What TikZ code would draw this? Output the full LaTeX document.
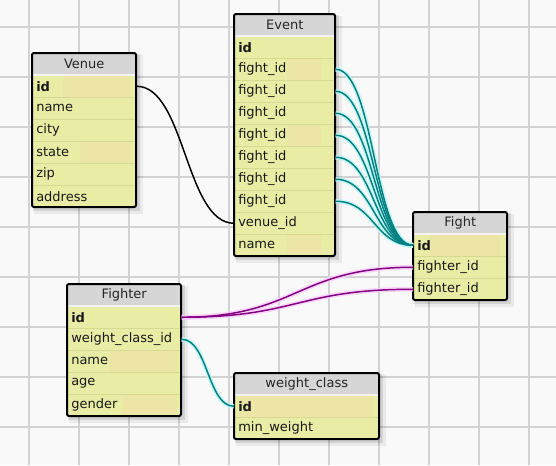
\documentclass[tikz,border=0pt]{standalone}
\usepackage{fontspec}
\setmainfont{DejaVu Sans}
\definecolor{bgc}{RGB}{249,249,249}
\definecolor{gridc}{RGB}{210,210,210}
\definecolor{hdrc}{RGB}{214,214,214}
\definecolor{rowc}{RGB}{232,236,164}
\definecolor{tanc}{RGB}{237,229,166}
\definecolor{sepc}{RGB}{212,218,148}
\definecolor{tealc}{RGB}{0,128,128}
\definecolor{purc}{RGB}{130,0,130}
\definecolor{cyanhalo}{RGB}{190,245,245}
\definecolor{pinkhalo}{RGB}{250,205,250}
\newcommand\erdfont{\fontsize{9.75}{11}\selectfont}
\newcommand\erdshadow[4]{%
  \fill[black,opacity=.06] (#1+2,#2+2) rectangle (#3+7,#4+7);
  \fill[black,opacity=.10] (#1+1,#2+1) rectangle (#3+4,#4+4);
  \fill[rowc] (#1,#2) rectangle (#3,#4);}
\begin{document}
\begin{tikzpicture}[x=0.75pt,y=-0.75pt,
  gridline/.style={draw=gridc,line width=0.85pt},
  hdrnode/.style={anchor=north west,fill=hdrc,minimum height=16.5pt,inner xsep=0pt,inner ysep=0pt,align=center,font=\erdfont,text=black!85},
  rownode/.style={anchor=north west,minimum height=16.5pt,inner xsep=3pt,inner ysep=0pt,align=left,font=\erdfont,text=black!90},
  sepline/.style={draw=sepc,line width=0.7pt},
  hdrsep/.style={draw=white!70!hdrc,line width=0.9pt},
  border/.style={draw=black,line width=1.5pt,rounded corners=1.5pt},
  blackcon/.style={draw=black,line width=1.1pt},
  tealcon/.style={draw=tealc,line width=1.1pt},
  purcon/.style={draw=purc,line width=1.1pt},
  cyanglow/.style={draw=cyanhalo,line width=3.5pt,opacity=.8},
  pinkglow/.style={draw=pinkhalo,line width=3.5pt,opacity=.8}]
\useasboundingbox (0,0) rectangle (556,465);
\fill[bgc] (0,0) rectangle (556,465);
\foreach \k in {0,...,10} \draw[gridline] (29+50*\k,0) -- (29+50*\k,465);
\foreach \k in {0,...,8} \draw[gridline] (0,27+50*\k) -- (556,27+50*\k);

% ---------------- Venue
\erdshadow{32}{53}{136}{207}
\fill[tanc] (63,75) rectangle (130,97);
\fill[tanc] (80,141) rectangle (130,163);
\node[hdrnode,text width=78pt] (venue) at (32,53) {Venue};
\node[rownode,text width=72pt] (venue-id) at (32,75) {\textbf{id}};
\node[rownode,text width=72pt] (venue-name) at (32,97) {name};
\node[rownode,text width=72pt] (venue-city) at (32,119) {city};
\node[rownode,text width=72pt] (venue-state) at (32,141) {state};
\node[rownode,text width=72pt] (venue-zip) at (32,163) {zip};
\node[rownode,text width=72pt] (venue-address) at (32,185) {address};
\draw[hdrsep] (32,75) -- (136,75);
\foreach \y in {97,119,141,163,185} \draw[sepline] (32,\y) -- (136,\y);
\draw[border] (32,53) rectangle (136,207);

% ---------------- Event
\erdshadow{234}{14}{335}{256}
\fill[tanc] (287,58) rectangle (321,80);
\fill[tanc] (287,124) rectangle (321,146);
\fill[tanc] (287,234) rectangle (321,256);
\node[hdrnode,text width=75.75pt] (event) at (234,14) {Event};
\node[rownode,text width=69.75pt] (ev-id) at (234,36) {\textbf{id}};
\foreach \i/\y in {1/58,2/80,3/102,4/124,5/146,6/168,7/190}
  \node[rownode,text width=69.75pt] (ev-f\i) at (234,\y) {fight\_id};
\node[rownode,text width=69.75pt] (ev-venue) at (234,212) {venue\_id};
\node[rownode,text width=69.75pt] (ev-name) at (234,234) {name};
\draw[hdrsep] (234,36) -- (335,36);
\foreach \y in {58,80,102,124,146,168,190,212,234} \draw[sepline] (234,\y) -- (335,\y);
\draw[border] (234,14) rectangle (335,256);

% ---------------- Fight
\erdshadow{413}{212}{507}{300}
\fill[tanc] (430,234) rectangle (500,256);
\node[hdrnode,text width=70.5pt] (fight) at (413,212) {Fight};
\node[rownode,text width=64.5pt] (fight-id) at (413,234) {\textbf{id}};
\node[rownode,text width=64.5pt] (fight-fk1) at (413,256) {fighter\_id};
\node[rownode,text width=64.5pt] (fight-fk2) at (413,278) {fighter\_id};
\draw[hdrsep] (413,234) -- (507,234);
\foreach \y in {256,278} \draw[sepline] (413,\y) -- (507,\y);
\draw[border] (413,212) rectangle (507,300);

% ---------------- Fighter
\erdshadow{67}{284}{181}{416}
\fill[tanc] (110,350) rectangle (177,372);
\fill[tanc] (123,394) rectangle (177,416);
\node[hdrnode,text width=85.5pt] (fighter) at (67,284) {Fighter};
\node[rownode,text width=79.5pt] (fighter-id) at (67,306) {\textbf{id}};
\node[rownode,text width=79.5pt] (fighter-wc) at (67,328) {weight\_class\_id};
\node[rownode,text width=79.5pt] (fighter-name) at (67,350) {name};
\node[rownode,text width=79.5pt] (fighter-age) at (67,372) {age};
\node[rownode,text width=79.5pt] (fighter-gender) at (67,394) {gender};
\draw[hdrsep] (67,306) -- (181,306);
\foreach \y in {328,350,372,394} \draw[sepline] (67,\y) -- (181,\y);
\draw[border] (67,284) rectangle (181,416);

% ---------------- weight_class
\erdshadow{234}{373}{379}{439}
\fill[tanc] (240,395) rectangle (374,417);
\node[hdrnode,text width=108.75pt] (wc) at (234,373) {weight\_class};
\node[rownode,text width=102.75pt] (wc-id) at (234,395) {\textbf{id}};
\node[rownode,text width=102.75pt] (wc-min) at (234,417) {min\_weight};
\draw[hdrsep] (234,395) -- (379,395);
\draw[sepline] (234,417) -- (379,417);
\draw[border] (234,373) rectangle (379,439);

% ---------------- connectors
\draw[blackcon] (venue-id.east) .. controls +(48.5,0) and +(-48.5,0) .. (ev-venue.west);
\foreach \i in {1,...,7}
  \draw[cyanglow] (ev-f\i.east) .. controls +(39,0) and +(-39,0) .. (fight-id.west);
\foreach \i in {1,...,7}
  \draw[tealcon] (ev-f\i.east) .. controls +(39,0) and +(-39,0) .. (fight-id.west);
\draw[pinkglow] (fighter-id.east) .. controls +(116,0) and +(-116,0) .. (fight-fk1.west);
\draw[pinkglow] (fighter-id.east) .. controls +(116,0) and +(-116,0) .. (fight-fk2.west);
\draw[purcon] (fighter-id.east) .. controls +(116,0) and +(-116,0) .. (fight-fk1.west);
\draw[purcon] (fighter-id.east) .. controls +(116,0) and +(-116,0) .. (fight-fk2.west);
\draw[cyanglow] (fighter-wc.east) .. controls +(26.5,0) and +(-26.5,0) .. (wc-id.west);
\draw[tealcon] (fighter-wc.east) .. controls +(26.5,0) and +(-26.5,0) .. (wc-id.west);
\end{tikzpicture}
\end{document}
